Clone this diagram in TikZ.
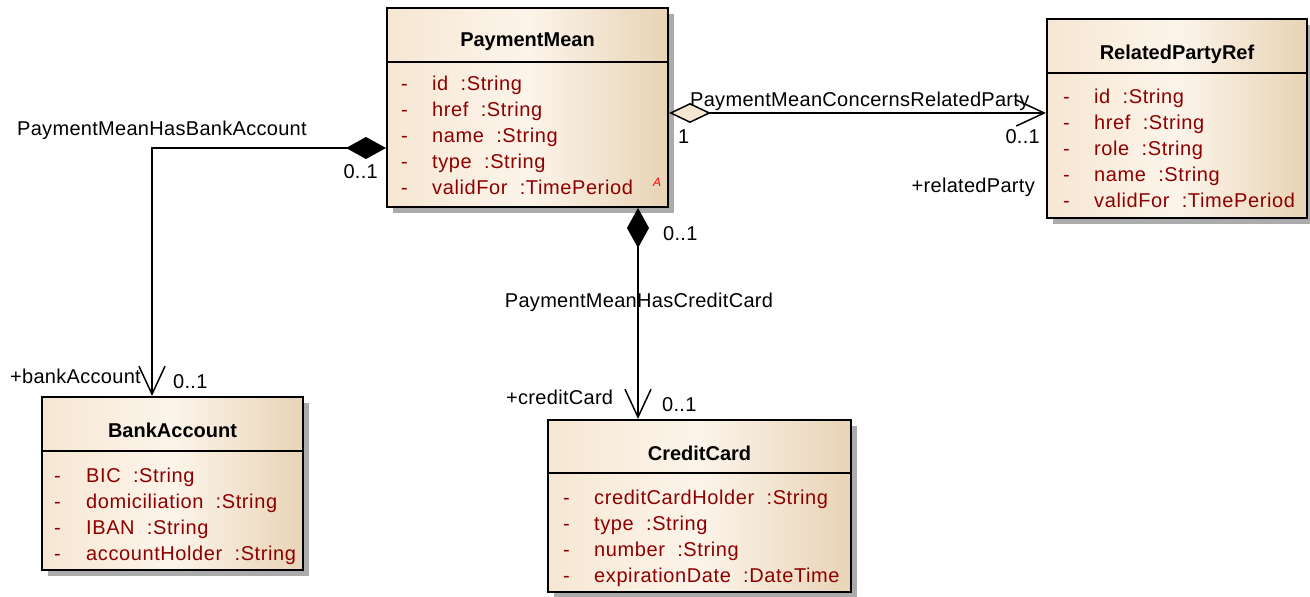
\documentclass[tikz,border=0pt]{standalone}
\usepackage{fontspec}
\setmainfont{Liberation Sans}
\newfontfamily\attrfont[LetterSpace=3]{Liberation Sans}
\newfontfamily\lblfont[LetterSpace=1.5]{Liberation Sans}
\usetikzlibrary{arrows.meta,shadows}

\definecolor{boxleft}{HTML}{F6E7D3}
\definecolor{boxmid}{HTML}{FCF4EA}
\definecolor{boxright}{HTML}{E8D4B6}
\definecolor{attrred}{HTML}{8E0000}
\definecolor{shadowgray}{HTML}{ABABAB}

\tikzset{
  classbox/.style={draw, line width=2pt, inner sep=0pt,
    left color=boxleft, right color=boxright, middle color=boxmid,
    drop shadow={shadow xshift=6pt, shadow yshift=-6pt, fill=shadowgray, opacity=1}},
  classname/.style={font=\fontsize{20}{24}\selectfont\bfseries, anchor=base, inner sep=0pt},
  attr/.style={font=\attrfont\fontsize{20}{24}\selectfont, text=attrred, anchor=base west, inner sep=0pt},
  lbl/.style={font=\lblfont\fontsize{20}{24}\selectfont, inner sep=0pt},
  sepline/.style={line width=1.5pt},
  assoc/.style={line width=1.5pt},
  fulldiamond/.style={{Diamond[length=40pt,width=22pt]}-{Straight Barb[length=28pt,width=26pt]}},
  emptydiamond/.style={{Diamond[length=42pt,width=20pt,fill=boxleft]}-{Straight Barb[length=28pt,width=26pt]}}
}

\begin{document}
\begin{tikzpicture}[x=1pt, y=-1pt]
  \useasboundingbox (0,0) rectangle (1310,597);

  % PaymentMean
  \node[classbox, minimum width=281pt, minimum height=199pt] (pm) at (527.5,107.5) {};
  \node[classname] (pm-name) at (527.5,46) {PaymentMean};
  \draw[sepline] (pm.west |- 0,62) -- (pm.east |- 0,62);
  \foreach \a [count=\i] in {id~~:String, href~~:String, name~~:String, type~~:String, validFor~~:TimePeriod}{
    \node[attr] (pm-d\i) at (401,64+26*\i) {-};
    \node[attr] (pm-a\i) at (432,64+26*\i) {\a};
  }
  \node[attr, font=\fontsize{12}{14}\selectfont\itshape, text=red] (pm-abs) at (653,186) {A};

  % RelatedPartyRef
  \node[classbox, minimum width=260pt, minimum height=199pt] (rp) at (1177,118.5) {};
  \node[classname] (rp-name) at (1177,59) {RelatedPartyRef};
  \draw[sepline] (rp.west |- 0,73) -- (rp.east |- 0,73);
  \foreach \a [count=\i] in {id~~:String, href~~:String, role~~:String, name~~:String, validFor~~:TimePeriod}{
    \node[attr] (rp-d\i) at (1063,77+26*\i) {-};
    \node[attr] (rp-a\i) at (1094,77+26*\i) {\a};
  }

  % BankAccount
  \node[classbox, minimum width=261pt, minimum height=173pt] (ba) at (172.5,483.5) {};
  \node[classname] (ba-name) at (172.5,437) {BankAccount};
  \draw[sepline] (ba.west |- 0,451) -- (ba.east |- 0,451);
  \foreach \a [count=\i] in {BIC~~:String, domiciliation~~:String, IBAN~~:String, accountHolder~~:String}{
    \node[attr] (ba-d\i) at (54,456+26*\i) {-};
    \node[attr] (ba-a\i) at (86,456+26*\i) {\a};
  }

  % CreditCard
  \node[classbox, minimum width=303pt, minimum height=172pt] (cc) at (699.5,506) {};
  \node[classname] (cc-name) at (699.5,460) {CreditCard};
  \draw[sepline] (cc.west |- 0,473) -- (cc.east |- 0,473);
  \foreach \a [count=\i] in {creditCardHolder~~:String, type~~:String, number~~:String, expirationDate~~:DateTime}{
    \node[attr] (cc-d\i) at (563,478+26*\i) {-};
    \node[attr] (cc-a\i) at (594,478+26*\i) {\a};
  }

  % associations
  \draw[assoc, fulldiamond] ([yshift=-40.5pt]pm.west) -| ([xshift=-20.5pt]ba.north);
  \draw[assoc, fulldiamond] ([xshift=110.5pt]pm.south) -- ([xshift=110.5pt]pm.south |- cc.north);
  \draw[assoc, emptydiamond] ([yshift=-5.5pt]pm.east) -- ([yshift=-5.5pt]pm.east -| rp.west);

  % labels
  \node[lbl, anchor=base west] (ba-assoc) at (17,135) {PaymentMeanHasBankAccount};
  \node[lbl, anchor=base east] (ba-m1) at (378,178) {0..1};
  \node[lbl, anchor=base west] (ba-role) at (10,383) {+bankAccount};
  \node[lbl, anchor=base west] (ba-m2) at (173,388) {0..1};

  \node[lbl, anchor=base west] (cc-m1) at (663,240) {0..1};
  \node[lbl, anchor=base] (cc-assoc) at (639,307) {PaymentMeanHasCreditCard};
  \node[lbl, anchor=base west] (cc-role) at (506,404) {+creditCard};
  \node[lbl, anchor=base west] (cc-m2) at (662,411) {0..1};

  \node[lbl, anchor=base west] (rp-assoc) at (690,106) {PaymentMeanConcernsRelatedParty};
  \node[lbl, anchor=base west] (rp-m1) at (678,143) {1};
  \node[lbl, anchor=base east] (rp-m2) at (1040,143) {0..1};
  \node[lbl, anchor=base east] (rp-role) at (1035,192) {+relatedParty};
\end{tikzpicture}
\end{document}
